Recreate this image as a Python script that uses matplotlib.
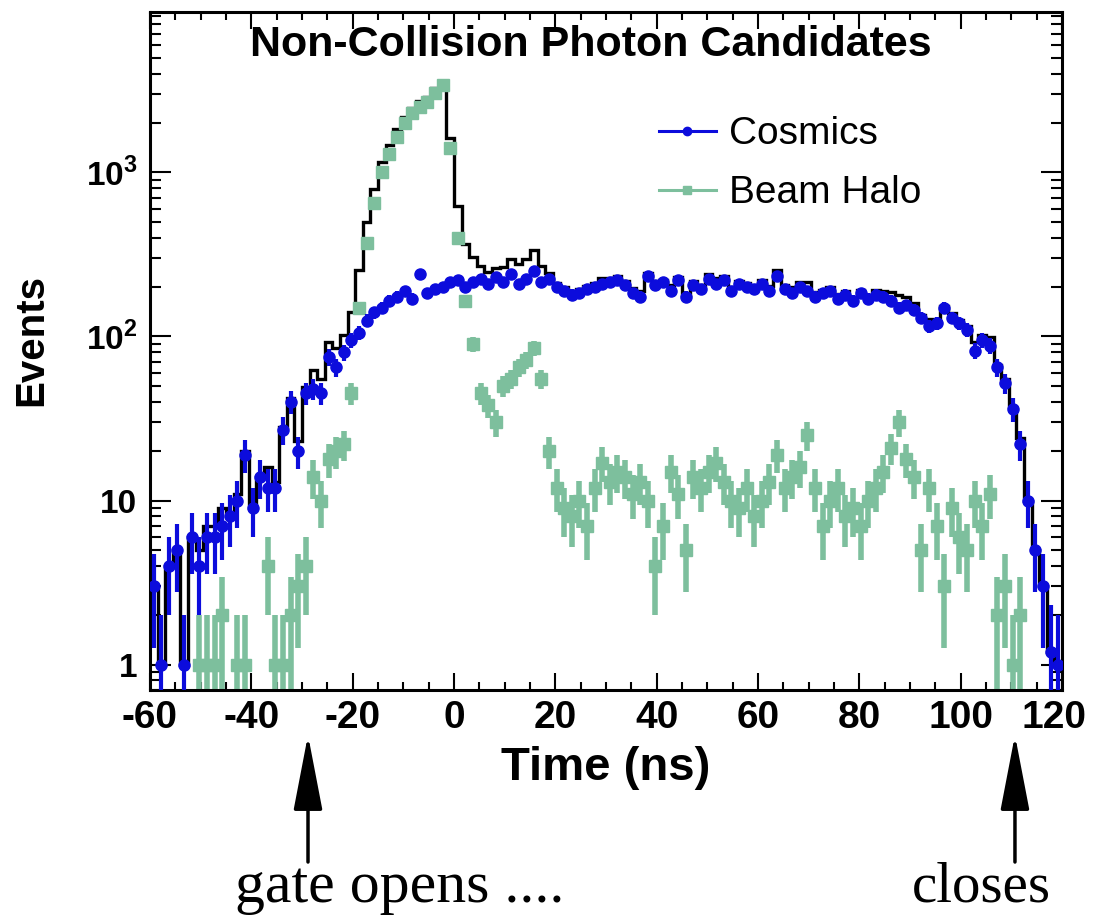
import numpy as np
import matplotlib
matplotlib.use('Agg')
import matplotlib.pyplot as plt
import matplotlib.transforms as mtransforms
from matplotlib.lines import Line2D
from matplotlib.ticker import MultipleLocator, FixedLocator, FixedFormatter, LogLocator, NullFormatter

plt.rcParams['font.family'] = 'Liberation Sans'
plt.rcParams['font.weight'] = 'bold'
plt.rcParams['axes.unicode_minus'] = False
plt.rcParams['mathtext.fontset'] = 'custom'
plt.rcParams['mathtext.rm'] = 'Liberation Sans:bold'
plt.rcParams['mathtext.bf'] = 'Liberation Sans:bold'

########################################
# data (1.5 ns bins from -60 to 120 ns)

t_lo, t_hi, t_bin = -60.0, 120.0, 1.5

cosmics = [
    3, 1, 4, 5, 1, 6, 4, 6, 6, 7,                         # -59.25 .. -45.75
    8, 10, 19, 9, 14, 12, 12, 27, 40, 20,                 # -44.25 .. -30.75
    45, 48, 45, 75, 65, 80, 95, 105, 125, 140,            # -29.25 .. -15.75
    150, 165, 175, 190, 170, 240, 185, 195, 200, 215,     # -14.25 .. -0.75
    220, 200, 215, 225, 210, 230, 215, 240, 210, 225,     # 0.75 .. 14.25
    250, 215, 225, 200, 190, 180, 185, 195, 200, 210,     # 15.75 .. 29.25
    215, 220, 205, 185, 175, 235, 205, 215, 190, 220,     # 30.75 .. 44.25
    175, 205, 195, 225, 210, 220, 190, 210, 200, 195,     # 45.75 .. 59.25
    210, 190, 235, 195, 185, 200, 190, 175, 185, 190,     # 60.75 .. 74.25
    170, 180, 165, 185, 170, 180, 175, 165, 150, 155,     # 75.75 .. 89.25
    145, 130, 115, 120, 150, 130, 120, 110, 82, 95,       # 90.75 .. 104.25
    88, 65, 52, 36, 22, 10, 5, 3, 1.2, 1,                 # 105.75 .. 119.25
]

halo = [
    0, 0, 0, 0, 0, 0, 1, 1, 1, 2,                         # -59.25 .. -45.75
    0, 1, 1, 0, 0, 4, 1, 1, 2, 3,                         # -44.25 .. -30.75
    4, 14, 10, 18, 20, 22, 45, 150, 370, 650,             # -29.25 .. -15.75
    1000, 1300, 1650, 2000, 2300, 2500, 2700, 3050, 3400, 1400,  # -14.25 .. -0.75
    400, 165, 90, 45, 38, 30, 50, 55, 65, 72,             # 0.75 .. 14.25
    85, 55, 20, 12, 9, 8, 10, 7, 12, 17,                  # 15.75 .. 29.25
    13, 15, 14, 11, 13, 10, 4, 7, 15, 11,                 # 30.75 .. 44.25
    5, 14, 12, 15, 17, 13, 10, 9, 12, 8,                  # 45.75 .. 59.25
    10, 13, 19, 12, 14, 16, 25, 12, 7, 10,                # 60.75 .. 74.25
    12, 8, 9, 7, 10, 12, 15, 21, 30, 18,                  # 75.75 .. 89.25
    14, 5, 12, 7, 3, 9, 6, 5, 10, 7,                      # 90.75 .. 104.25
    11, 2, 3, 1, 2, 0, 0, 0, 0, 0,                        # 105.75 .. 119.25
]

xticks = [-60, -40, -20, 0, 20, 40, 60, 80, 100, 120]
yticks = [1, 10, 100, 1000]
ylabels = ['1', '10', r'$10^{2}$', r'$10^{3}$']

blue = '#0c0cdc'
green = '#7dbf9d'

########################################

edges = np.arange(t_lo, t_hi + 1e-6, t_bin)
centers = 0.5 * (edges[1:] + edges[:-1])
cos = np.array(cosmics, dtype=float)
hal = np.array(halo, dtype=float)
total = cos + hal


def points(ax, vals, fmt, color, ms, elw, z):
    m = vals > 0
    v = vals[m]
    err = np.sqrt(v)
    lo = v - np.maximum(v - err, 0.3)
    ax.errorbar(centers[m], v, yerr=[lo, err], fmt=fmt, color=color, ms=ms,
                mec=color, elinewidth=elw, capsize=0, zorder=z)


fig = plt.figure(figsize=(10.93, 9.19), dpi=100)
ax = fig.add_axes([0.1372, 0.2492, 0.8344, 0.7378])

ax.stairs(np.where(total > 0, total, 0.1), edges, color='black', lw=2.4,
          baseline=None, zorder=1.5)
points(ax, hal, 's', green, 8.5, 4.0, 2)
points(ax, cos, 'o', blue, 8.0, 3.0, 3)

ax.set_yscale('log')
ax.set_xlim(t_lo, t_hi)
ax.set_ylim(0.7, 9500)

ax.xaxis.set_major_locator(FixedLocator(xticks))
ax.xaxis.set_minor_locator(MultipleLocator(5))
ax.yaxis.set_major_locator(FixedLocator(yticks))
ax.yaxis.set_major_formatter(FixedFormatter(ylabels))
ax.yaxis.set_minor_locator(LogLocator(base=10, subs=np.arange(2, 10)))
ax.yaxis.set_minor_formatter(NullFormatter())

ax.tick_params(which='both', direction='in', top=True, right=True, width=1.5)
ax.tick_params(axis='x', which='major', length=12, labelsize=28, pad=7)
ax.tick_params(axis='x', which='minor', length=6)
ax.tick_params(axis='y', which='major', length=15, labelsize=24, pad=9)
ax.tick_params(axis='y', which='minor', length=8)
for lab in ax.get_xticklabels() + ax.get_yticklabels():
    lab.set_fontweight('bold')
# keep the last x label inside the figure, like the original
last = ax.get_xticklabels()[-1]
last.set_transform(last.get_transform() +
                   mtransforms.ScaledTranslation(-8 / 100, 0, fig.dpi_scale_trans))
for s in ax.spines.values():
    s.set_linewidth(2.2)

ax.set_xlabel('Time (ns)', fontsize=34, fontweight='bold')
ax.xaxis.set_label_coords(0.5, -0.083)
ax.set_ylabel('Events', fontsize=29, fontweight='bold')
ax.yaxis.set_label_coords(-0.109, 0.516)

ax.text(0.4836, 0.951, 'Non-Collision Photon Candidates', transform=ax.transAxes,
        ha='center', va='center', fontsize=31, fontweight='bold')

handles = [Line2D([], [], color=blue, lw=2.2, marker='o', ms=6),
           Line2D([], [], color=green, lw=2.2, marker='s', ms=6)]
ax.legend(handles, ['Cosmics', 'Beam Halo'], loc='upper left',
          bbox_to_anchor=(0.537, 0.875), frameon=False, borderpad=0,
          handlelength=1.45, handletextpad=0.35, labelspacing=0.6,
          prop={'size': 28, 'weight': 'normal'})

# gate annotations below the plot
arrow = dict(arrowstyle='-|>,head_length=1.3,head_width=0.25', lw=2.5,
             color='black', mutation_scale=36, shrinkA=0, shrinkB=0)
for xf in [0.2818, 0.9286]:
    ax.annotate('', xy=(xf, 0.2002), xytext=(xf, 0.062),
                xycoords='figure fraction', textcoords='figure fraction',
                arrowprops=arrow)
fig.text(0.366, 0.0185, 'gate opens ....', family='Liberation Serif',
         fontweight='normal', fontsize=43, ha='center', va='baseline')
fig.text(0.8975, 0.0185, 'closes', family='Liberation Serif',
         fontweight='normal', fontsize=41, ha='center', va='baseline')

fig.savefig('out.png', dpi=100)
